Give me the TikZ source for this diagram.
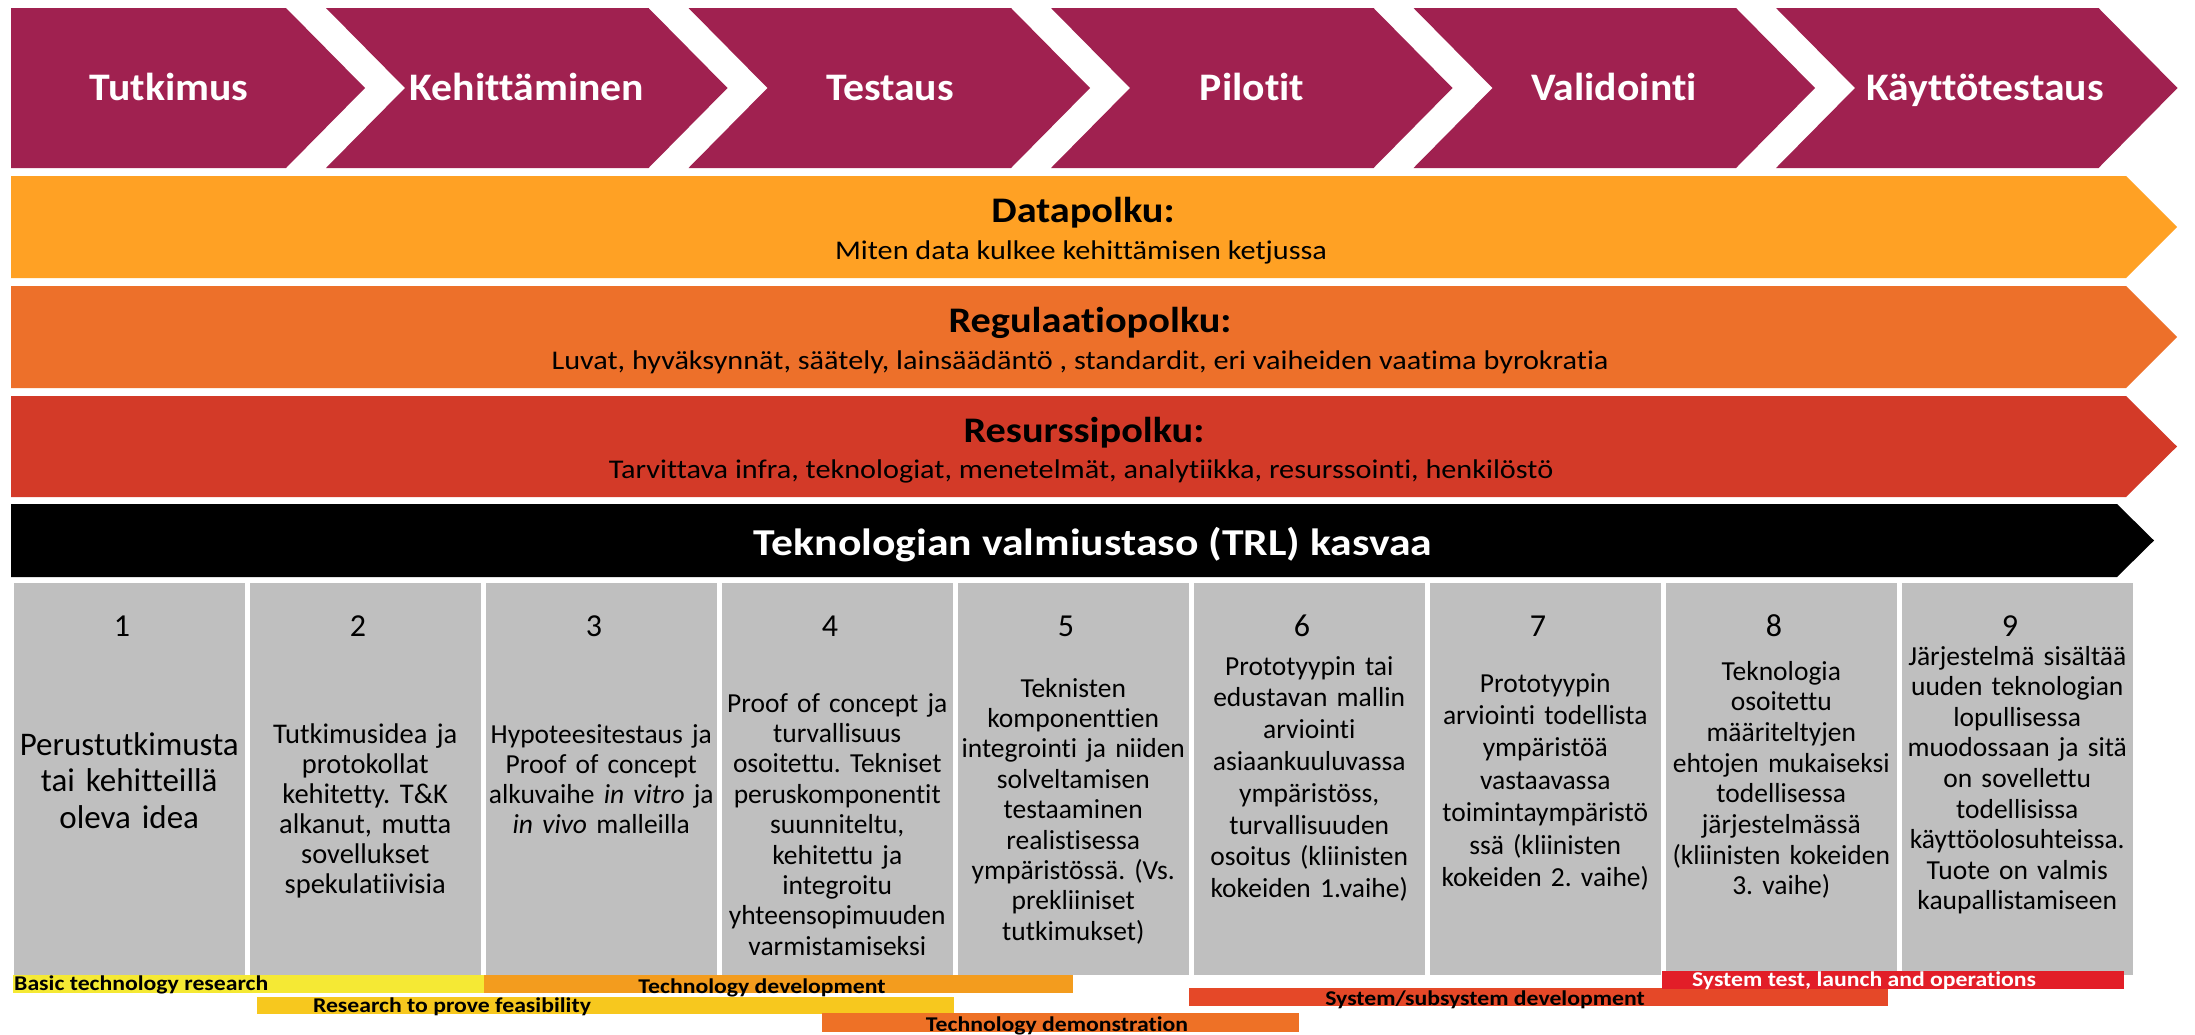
\documentclass[tikz,border=0pt]{standalone}
\usepackage{fontspec}
\setmainfont{Carlito}[Ligatures=NoCommon]
\newfontfamily\chevfont{Carlito}[Ligatures=NoCommon,FakeStretch=1.07]
\newfontfamily\bandfont{Carlito}[Ligatures=NoCommon,FakeStretch=1.12]
\newfontfamily\trlfont{Carlito}[Ligatures=NoCommon,FakeStretch=1.15]
\newfontfamily\barfont{Carlito}[Ligatures=NoCommon,FakeStretch=1.13]
\frenchspacing
\definecolor{chevpurple}{RGB}{160,33,80}
\definecolor{dataorange}{RGB}{255,161,36}
\definecolor{regorange}{RGB}{237,112,42}
\definecolor{resred}{RGB}{211,58,40}
\definecolor{boxgray}{RGB}{191,191,191}
\definecolor{barbasic}{RGB}{245,233,52}
\definecolor{bardev}{RGB}{243,156,30}
\definecolor{barfeas}{RGB}{247,200,30}
\definecolor{bardemo}{RGB}{238,113,38}
\definecolor{barsub}{RGB}{229,72,40}
\definecolor{bartest}{RGB}{226,30,40}
\tikzset{
  chevlabel/.style={text=white, font=\chevfont\bfseries\fontsize{39}{41}\selectfont, anchor=base, inner sep=0pt},
  bandtitle/.style={font=\bandfont\bfseries\fontsize{36}{38}\selectfont, anchor=base, inner sep=0pt},
  bandsub/.style={font=\bandfont\fontsize{27}{30}\selectfont, anchor=base, inner sep=0pt},
  trlnum/.style={font=\fontsize{32}{34}\selectfont, anchor=base, inner sep=0pt},
  trltext/.style={anchor=base, inner sep=0pt, text width=260pt, align=center},
  barlabel/.style={font=\barfont\bfseries\fontsize{21}{23}\selectfont, anchor=base, inner sep=0pt},
}
\begin{document}
\begin{tikzpicture}[x=1pt,y=-1pt]
\useasboundingbox (0,0) rectangle (2195,1034);
\fill[white] (0,0) rectangle (2195,1034);
% top chevrons
\fill[chevpurple] (11,8) -- (286,8) -- (365,88) -- (286,168) -- (11,168) -- cycle;
\foreach \i in {1,...,5}{
  \pgfmathsetmacro{\a}{326+362.5*(\i-1)}
  \fill[chevpurple] (\a,8) -- ({\a+322.5},8) -- ({\a+401.5},88) -- ({\a+322.5},168) -- (\a,168) -- ({\a+79},88) -- cycle;
}
\node[chevlabel] (c1) at (169,100) {Tutkimus};
\node[chevlabel] (c2) at (527,100) {Kehittäminen};
\node[chevlabel] (c3) at (890,100) {Testaus};
\node[chevlabel] (c4) at (1252,100) {Pilotit};
\node[chevlabel] (c5) at (1614,100) {Validointi};
\node[chevlabel] (c6) at (1985,100) {Käyttötestaus};
% bands
\fill[dataorange] (11,176) -- (2126,176) -- (2177,227) -- (2126,278) -- (11,278) -- cycle;
\fill[regorange] (11,286) -- (2126,286) -- (2177,337) -- (2126,388) -- (11,388) -- cycle;
\fill[resred] (11,396) -- (2126,396) -- (2177,446.5) -- (2126,497) -- (11,497) -- cycle;
\fill[black] (11,504) -- (2117,504) -- (2154,540.5) -- (2117,577) -- (11,577) -- cycle;
\node[bandtitle] (dt) at (1083,222) {Datapolku:};
\node[bandsub] (ds) at (1081,259) {Miten data kulkee kehittämisen ketjussa};
\node[bandtitle] (rt) at (1090,332) {Regulaatiopolku:};
\node[bandsub] (rs) at (1080,369) {Luvat, hyväksynnät, säätely, lainsäädäntö , standardit, eri vaiheiden vaatima byrokratia};
\node[bandtitle] (st) at (1084,442) {Resurssipolku:};
\node[bandsub] (ss) at (1081,478) {Tarvittava infra, teknologiat, menetelmät, analytiikka, resurssointi, henkilöstö};
\node[anchor=base, inner sep=0pt, text=white, font=\trlfont\bfseries\fontsize{38}{40}\selectfont] (trl) at (1093,555) {Teknologian valmiustaso (TRL) kasvaa};
% gray boxes
\foreach \i in {0,...,8}{
  \fill[boxgray] ({14+236*\i},583) rectangle ({14+236*\i+230.5},975);
}
\foreach \i in {1,...,9}{
  \node[trlnum] (n\i) at ({14+236*(\i-1)+108},636) {\i};
}
\node[trltext, font=\fontsize{33}{36.7}\selectfont] (t1) at (129.25,755) {Perustutkimusta\\tai kehitteillä\\oleva idea};
\node[trltext, font=\fontsize{28.5}{30}\selectfont] (t2) at (365.25,743) {Tutkimusidea ja\\protokollat\\kehitetty. T\&K\\alkanut, mutta\\sovellukset\\spekulatiivisia};
\node[trltext, font=\fontsize{27.5}{30}\selectfont] (t3) at (601.25,743) {Hypoteesitestaus ja\\Proof of concept\\alkuvaihe \textit{in vitro} ja\\\textit{in vivo} malleilla};
\node[trltext, font=\fontsize{27.5}{30.4}\selectfont] (t4) at (837.25,712) {Proof of concept ja\\turvallisuus\\osoitettu. Tekniset\\peruskomponentit\\suunniteltu,\\kehitettu ja\\integroitu\\yhteensopimuuden\\varmistamiseksi};
\node[trltext, font=\fontsize{27.5}{30.4}\selectfont] (t5) at (1073.25,697) {Teknisten\\komponenttien\\integrointi ja niiden\\solveltamisen\\testaaminen\\realistisessa\\ympäristössä. (Vs.\\prekliiniset\\tutkimukset)};
\node[trltext, font=\fontsize{27.5}{31.8}\selectfont] (t6) at (1309.25,675) {Prototyypin tai\\edustavan mallin\\arviointi\\asiaankuuluvassa\\ympäristöss,\\turvallisuuden\\osoitus (kliinisten\\kokeiden 1.vaihe)};
\node[trltext, font=\fontsize{27.5}{32.4}\selectfont] (t7) at (1545.25,692) {Prototyypin\\arviointi todellista\\ympäristöä\\vastaavassa\\toimintaympäristö\\ssä (kliinisten\\kokeiden 2. vaihe)};
\node[trltext, font=\fontsize{27.5}{30.7}\selectfont] (t8) at (1781.25,680) {Teknologia\\osoitettu\\määriteltyjen\\ehtojen mukaiseksi\\todellisessa\\järjestelmässä\\(kliinisten kokeiden\\3. vaihe)};
\node[trltext, font=\fontsize{27.5}{30.6}\selectfont] (t9) at (2017.25,665) {Järjestelmä sisältää\\uuden teknologian\\lopullisessa\\muodossaan ja sitä\\on sovellettu\\todellisissa\\käyttöolosuhteissa.\\Tuote on valmis\\kaupallistamiseen};
% bottom bars
\fill[barbasic] (13,975) rectangle (484,993);
\fill[bardev] (484,975) rectangle (1073,993);
\fill[barfeas] (257,997) rectangle (954,1014);
\fill[bardemo] (822,1013) rectangle (1299,1032);
\fill[barsub] (1189,988) rectangle (1888,1006);
\fill[bartest] (1662,971) rectangle (2124,989);
\node[barlabel, anchor=base west] (b1) at (14,990) {Basic technology research};
\node[barlabel] (b2) at (762,993) {Technology development};
\node[barlabel] (b3) at (452,1012) {Research to prove feasibility};
\node[barlabel] (b4) at (1057,1031) {Technology demonstration};
\node[barlabel] (b5) at (1485,1005) {System/subsystem development};
\node[barlabel, text=white] (b6) at (1864,986) {System test, launch and operations};
\end{tikzpicture}
\end{document}
